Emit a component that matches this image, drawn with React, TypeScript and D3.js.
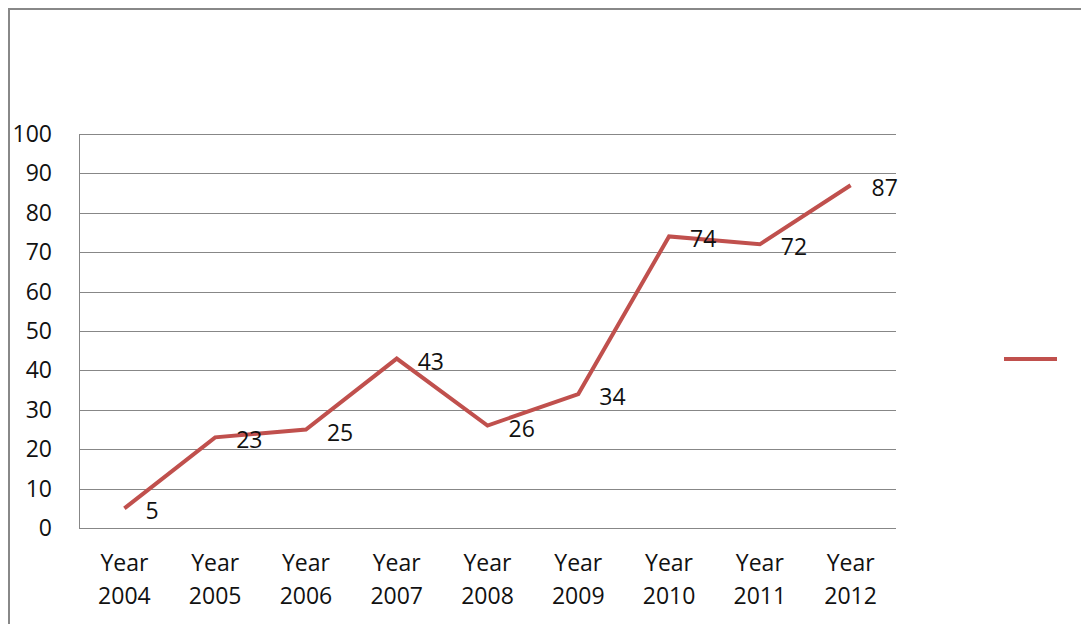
import React from "react";
import * as d3 from "d3";

const categories = ["2004", "2005", "2006", "2007", "2008", "2009", "2010", "2011", "2012"];
const values = [5, 23, 25, 43, 26, 34, 74, 72, 87];
const yTicks = [0, 10, 20, 30, 40, 50, 60, 70, 80, 90, 100];

const W = 1081;
const H = 624;
const plot = { left: 79, right: 896, top: 134, bottom: 528 };
const FONT = "'Open Sans', 'Liberation Sans', sans-serif";
const RED = "#C0504D";

export default function App() {
  const x = d3.scaleBand<string>().domain(categories).range([plot.left, plot.right]);
  const y = d3.scaleLinear().domain([0, 100]).range([plot.bottom, plot.top]);
  const cx = (c: string) => (x(c) as number) + x.bandwidth() / 2;
  const line = d3
    .line<number>()
    .x((_, i) => cx(categories[i]))
    .y((d) => y(d));

  return (
    <svg
      width={W}
      height={H}
      style={{ position: "absolute", left: 0, top: 0, background: "#fff" }}
      fontFamily={FONT}
    >
      <rect x={0} y={0} width={W} height={H} fill="#fff" />
      {/* outer border */}
      <path d={`M9,${H + 5} L9,9 L${W + 5},9`} fill="none" stroke="#888" strokeWidth={2} />
      {/* gridlines */}
      {yTicks.map((t) => (
        <line
          key={t}
          x1={plot.left}
          x2={plot.right}
          y1={Math.round(y(t)) + 0.5}
          y2={Math.round(y(t)) + 0.5}
          stroke="#878787"
          strokeWidth={1}
        />
      ))}
      {/* y axis line */}
      <line x1={plot.left + 0.5} x2={plot.left + 0.5} y1={plot.top} y2={plot.bottom} stroke="#878787" />
      {/* y tick labels */}
      {yTicks.map((t) => (
        <text
          key={t}
          x={52}
          y={y(t)}
          dy="0.35em"
          textAnchor="end"
          fontSize={23}
          fill="#111"
        >
          {t}
        </text>
      ))}
      {/* x labels */}
      {categories.map((c) => (
        <text key={c} x={cx(c)} textAnchor="middle" fontSize={23} fill="#111">
          <tspan x={cx(c)} y={571}>Year</tspan>
          <tspan x={cx(c)} y={604}>{c}</tspan>
        </text>
      ))}
      {/* line */}
      <path d={line(values) || ""} fill="none" stroke={RED} strokeWidth={4} strokeLinejoin="miter" />
      {/* data labels */}
      {values.map((v, i) => (
        <text
          key={i}
          x={cx(categories[i]) + 21}
          y={y(v) + 3}
          dy="0.35em"
          fontSize={23}
          fill="#111"
        >
          {v}
        </text>
      ))}
      {/* legend */}
      <line x1={1004} x2={1057} y1={359} y2={359} stroke={RED} strokeWidth={4} />
    </svg>
  );
}
